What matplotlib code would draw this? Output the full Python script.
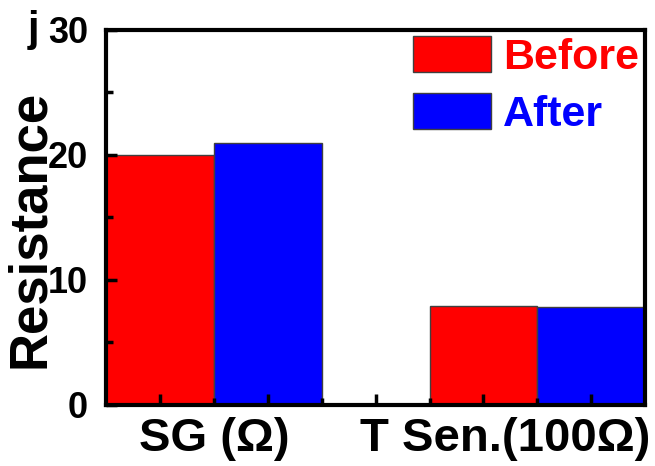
import matplotlib
matplotlib.use("Agg")
import matplotlib.pyplot as plt
from matplotlib.ticker import MultipleLocator, FixedLocator
import numpy as np

categories = ["SG (Ω)", "T Sen.(100Ω)"]
series_names = ["Before", "After"]
before_vals = [20.0, 7.95]
after_vals = [20.95, 7.85]
colors = ["#ff0000", "#0000ff"]
yticks = [0, 10, 20, 30]

plt.rcParams['font.family'] = ['Liberation Sans', 'DejaVu Sans']
plt.rcParams['font.weight'] = 'bold'

fig = plt.figure(figsize=(6.55, 4.66), dpi=100)
ax = fig.add_axes([0.162, 0.131, 0.823, 0.805])

group_pos = np.array([1.5, 4.5])
handles = []
for i, (vals, c, name) in enumerate(zip([before_vals, after_vals], colors, series_names)):
    h = ax.bar(group_pos - 0.5 + i, vals, width=1.0, color=c, edgecolor='#404040',
               linewidth=1.0, label=name)
    handles.append(h)

ax.set_xlim(0.5, 5.5)
ax.set_ylim(0, 30)
ax.set_yticks(yticks)
ax.yaxis.set_minor_locator(MultipleLocator(5))
ax.xaxis.set_major_locator(FixedLocator([1, 2, 3, 4, 5]))
ax.xaxis.set_minor_locator(FixedLocator([1.5, 2.5, 3.5, 4.5]))
ax.set_xticklabels([])
ax.tick_params(axis='both', which='major', direction='in', length=8, width=2.5,
               labelsize=26, top=False, right=False)
ax.tick_params(axis='both', which='minor', direction='in', length=5, width=2.5,
               top=False, right=False)
ax.tick_params(axis='y', pad=13)
for lab in ax.get_yticklabels():
    lab.set_fontweight('bold')
for s in ax.spines.values():
    s.set_linewidth(3)

ax.set_ylabel("Resistance", fontsize=38, fontweight='bold')
ax.yaxis.set_label_coords(-0.095, 0.47)

# category labels
ax.text(1.5, -1.0, categories[0], ha='center', va='top', fontsize=34, fontweight='bold',
        transform=ax.transData)
ax.text(4.2, -1.0, categories[1], ha='center', va='top', fontsize=34, fontweight='bold',
        transform=ax.transData)

# panel label
fig.text(0.042, 0.912, "j", fontsize=30, fontweight='bold', ha='left', va='baseline')

leg = ax.legend(handles=handles, loc='upper right', bbox_to_anchor=(1.0, 1.0),
                frameon=False, handlelength=1.8, handleheight=0.9,
                handletextpad=0.28, labelspacing=0.35, borderaxespad=0.0, borderpad=0.15,
                prop={'weight': 'bold', 'size': 31})
for t, c in zip(leg.get_texts(), colors):
    t.set_color(c)

fig.savefig("out.png", dpi=100)
